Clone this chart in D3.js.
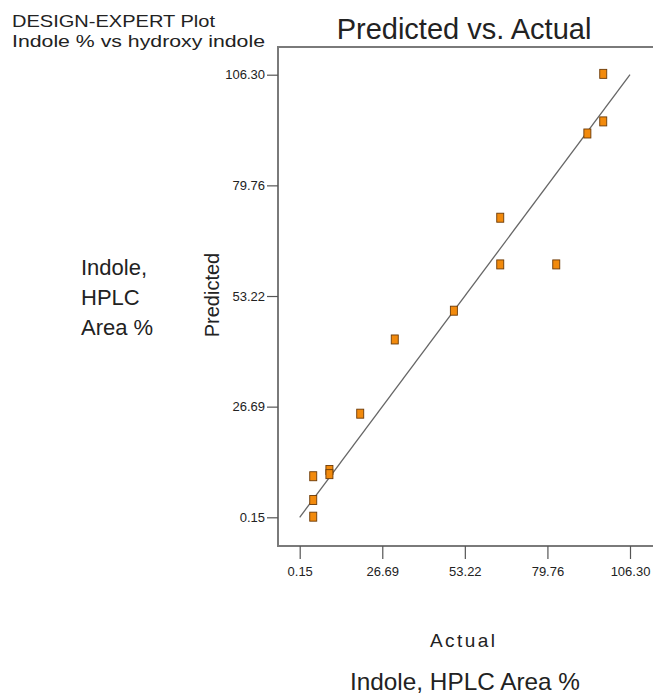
<!DOCTYPE html>
<html>
<head>
<meta charset="utf-8">
<script src="https://cdn.jsdelivr.net/npm/d3@7"></script>
<style>
  html, body { margin: 0; padding: 0; background: #fff; }
  svg { display: block; font-family: "Liberation Sans", Arial, sans-serif; }
</style>
</head>
<body>
<svg id="chart" width="653" height="697"></svg>
<script>
// Data
const actual    = [97.7, 97.7, 92.6, 64.6, 64.6, 82.6, 49.7, 30.7, 19.6, 4.5, 9.7, 9.7, 4.5, 4.5];
const predicted = [106.5, 95.1, 92.2, 72.0, 60.8, 60.8, 49.7, 42.8, 25.0, 10.0, 11.5, 10.5, 4.3, 0.3];
const tickValues = [0.15, 26.69, 53.22, 79.76, 106.30];
const fitLine = [0.15, 106.30];

const svg = d3.select("#chart");

const x = d3.scaleLinear().domain([0.15, 106.30]).range([299.7, 630]);
const y = d3.scaleLinear().domain([0.15, 106.30]).range([517.3, 74.7]);

const frame = { left: 278, top: 47, right: 665, bottom: 546 };

// frame
svg.append("rect")
  .attr("x", frame.left).attr("y", frame.top)
  .attr("width", frame.right - frame.left).attr("height", frame.bottom - frame.top)
  .attr("fill", "none").attr("stroke", "#7a7a7a").attr("stroke-width", 2);

const fmt = d3.format(".2f");

// y axis
const yAxis = svg.append("g")
  .attr("transform", `translate(${frame.left},0)`)
  .call(d3.axisLeft(y).tickValues(tickValues).tickFormat(fmt).tickSize(11).tickPadding(2));
yAxis.select(".domain").remove();
yAxis.selectAll(".tick line").attr("stroke", "#555").attr("stroke-width", 1.2);
yAxis.selectAll(".tick text").attr("font-size", 13).attr("fill", "#222")
  .attr("font-family", "Liberation Sans, Arial, sans-serif");

// x axis
const xAxis = svg.append("g")
  .attr("transform", `translate(0,${frame.bottom})`)
  .call(d3.axisBottom(x).tickValues(tickValues).tickFormat(fmt).tickSize(13).tickPadding(8));
xAxis.select(".domain").remove();
xAxis.selectAll(".tick line").attr("stroke", "#555").attr("stroke-width", 1.2);
xAxis.selectAll(".tick text").attr("font-size", 13).attr("fill", "#222")
  .attr("font-family", "Liberation Sans, Arial, sans-serif");

// diagonal fit line
svg.append("line")
  .attr("x1", x(fitLine[0])).attr("y1", y(fitLine[0]))
  .attr("x2", x(fitLine[1])).attr("y2", y(fitLine[1]))
  .attr("stroke", "#666").attr("stroke-width", 1.3);

// points
const pts = actual.map((a, i) => ({ a, p: predicted[i] }));
svg.append("g").selectAll("rect").data(pts).join("rect")
  .attr("x", d => x(d.a) - 3.5).attr("y", d => y(d.p) - 4.5)
  .attr("width", 7).attr("height", 9)
  .attr("fill", "#f28a0c").attr("stroke", "#6b3a08").attr("stroke-width", 0.9);

// texts
svg.append("text").attr("x", 12).attr("y", 27).attr("font-size", 17).attr("fill", "#222")
  .attr("textLength", 203).attr("lengthAdjust", "spacingAndGlyphs")
  .text("DESIGN-EXPERT Plot");
svg.append("text").attr("x", 12).attr("y", 47).attr("font-size", 17).attr("fill", "#222")
  .attr("textLength", 253).attr("lengthAdjust", "spacingAndGlyphs")
  .text("Indole % vs hydroxy indole");

svg.append("text").attr("x", 464).attr("y", 38.5).attr("font-size", 29)
  .attr("text-anchor", "middle").attr("fill", "#222")
  .text("Predicted vs. Actual");

const leftLines = ["Indole,", "HPLC", "Area %"];
svg.append("g").selectAll("text").data(leftLines).join("text")
  .attr("x", 81).attr("y", (d, i) => 275 + i * 30)
  .attr("font-size", 22).attr("fill", "#222")
  .text(d => d);

svg.append("text")
  .attr("transform", "translate(219,295) rotate(-90)")
  .attr("text-anchor", "middle").attr("font-size", 20).attr("fill", "#222")
  .text("Predicted");

svg.append("text").attr("x", 430).attr("y", 646.5).attr("font-size", 19).attr("fill", "#222")
  .attr("textLength", 65).attr("lengthAdjust", "spacing")
  .text("Actual");

svg.append("text").attr("x", 350).attr("y", 690).attr("font-size", 24).attr("fill", "#222")
  .attr("textLength", 230).attr("lengthAdjust", "spacingAndGlyphs")
  .text("Indole, HPLC Area %");
</script>
</body>
</html>
